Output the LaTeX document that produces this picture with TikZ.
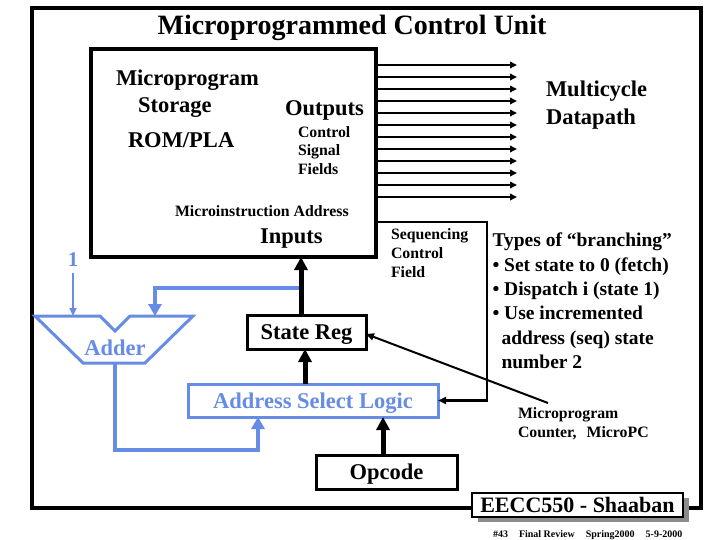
\documentclass[tikz,border=0pt]{standalone}
\usepackage{fontspec}
\setmainfont{Liberation Serif}
\usetikzlibrary{arrows.meta,shadows}
\definecolor{cublue}{RGB}{102,140,229}
\definecolor{shgray}{RGB}{140,140,140}
\newcommand{\fntbig}{\fontsize{22.5}{27}\selectfont\bfseries}
\newcommand{\fntmid}{\fontsize{19.5}{24}\selectfont\bfseries}
\newcommand{\fntsml}{\fontsize{15.8}{18}\selectfont\bfseries}
\begin{document}
\begin{tikzpicture}[x=1pt,y=-1pt,
  every node/.style={inner sep=0pt,outer sep=0pt},
  lbl/.style={anchor=base west,font=\fntbig},
  lblsm/.style={anchor=base west,font=\fntsml},
  lblmid/.style={anchor=base west,font=\fntmid},
  boxb/.style={draw,line width=3pt,anchor=north west,font=\fntbig,text height=15.5pt,text depth=0pt},
  outarr/.style={line width=2.5pt,-{Triangle[length=7pt,width=6.5pt]}},
  thickarr/.style={line width=5pt,-{Triangle[length=13pt,width=13pt]}},
  bluearr/.style={cublue,line width=4pt,-{Triangle[length=12pt,width=13pt]}},
  thinarr/.style={line width=2.5pt,-{Triangle[length=8pt,width=7pt]}},
]
\fill[white] (0,0) rectangle (720,540);
\useasboundingbox (0,0) rectangle (720,540);
\draw[line width=3.5pt] (32,8) rectangle (701,508);
\node[anchor=base,font=\fontsize{28}{32}\selectfont\bfseries] (title) at (352,35) {Microprogrammed Control Unit};

% microprogram storage
\node[draw,line width=3.2pt,anchor=north west,minimum width=285pt,minimum height=208pt] (rom) at (91,49) {};
\node[lbl] (t1) at (116,86) {Microprogram};
\node[lbl] (t2) at (138,113) {Storage};
\node[lbl] (t3) at (128,148) {ROM/PLA};
\node[lbl] (t4) at (285,116) {Outputs};
\node[lblsm] (t5) at (298,137.5) {Control};
\node[lblsm] (t6) at (298,156) {Signal};
\node[lblsm] (t7) at (298,175) {Fields};
\node[lblsm] (t8) at (175,216.5) {Microinstruction Address};
\node[lbl] (t9) at (260,243.5) {Inputs};

\foreach \i in {0,...,11}
  \draw[outarr] ([yshift={-(16+12*\i)}]rom.north east) -- ++(141,0);

\node[lbl] (dp1) at (546,97) {Multicycle};
\node[lbl] (dp2) at (546,125) {Datapath};

\node[lblsm] (sq1) at (391,240) {Sequencing};
\node[lblsm] (sq2) at (391,258.5) {Control};
\node[lblsm] (sq3) at (391,277) {Field};

\node[lblmid] (ty0) at (492.5,247) {Types of “branching”};
\node[lblmid] (ty1) at (492.5,271.3) {• Set state to 0 (fetch)};
\node[lblmid] (ty2) at (492.5,295.6) {• Dispatch i (state 1)};
\node[lblmid] (ty3) at (492.5,319.9) {• Use incremented};
\node[lblmid] (ty4) at (501.5,344.2) {address (seq) state};
\node[lblmid] (ty5) at (501.5,368.5) {number 2};

\node[lblsm] (mp1) at (518,418) {Microprogram};
\node[lblsm] (mp2) at (518,437) {Counter,\hspace{10pt}MicroPC};

% boxes
\node[boxb,minimum width=119pt,minimum height=34pt] (sr) at (247,315) {State Reg};
\node[boxb,draw=cublue,text=cublue,minimum width=250pt,minimum height=33pt] (asl) at (188,384) {Address Select Logic};
\node[boxb,minimum width=141pt,minimum height=34pt] (opc) at (316,455) {Opcode};

% adder
\draw[cublue,line width=3pt] (35,316) -- (100,316) -- (115,331) -- (130,316) -- (193,316) -- (145,363) -- (83,363) -- cycle;
\node[anchor=base,font=\fntbig,text=cublue] (adder) at (115,355) {Adder};
\coordinate (addinA) at (73,316);
\coordinate (addinB) at (155,316);
\coordinate (addout) at (115,363);
\node[anchor=base,font=\fontsize{21}{24}\selectfont\bfseries,text=cublue] (one) at (73,266) {1};
\draw[cublue,line width=2pt,-{Triangle[length=8pt,width=7pt]}] ([yshift=-7pt]one.south) -- (addinA);
\coordinate (tap) at ([xshift=-5.5pt,yshift=27pt]sr.north);
\draw[bluearr] (tap) -| (addinB);
\draw[bluearr] (addout) |- ([xshift=-55pt,yshift=-33pt]asl.south) -- ([xshift=-55pt]asl.south);

% black arrows
\draw[thickarr] ([xshift=-5.5pt]sr.north) -- ([xshift=-5.5pt]sr.north |- rom.south);
\draw[thickarr] ([xshift=-8pt]asl.north) -- ([xshift=-8pt]asl.north |- sr.south);
\draw[thickarr] ([xshift=-3.5pt]opc.north) -- ([xshift=-3.5pt]opc.north |- asl.south);
\draw[thinarr] ([yshift=35pt]rom.south east) -- ++(111,0) |- (asl.east);
\coordinate (mpcend) at (548,403);
\draw[thinarr,line width=2pt] (mpcend) -- ([yshift=-2pt]sr.east);

% footer
\node[draw,line width=2pt,fill=white,anchor=north west,minimum width=211pt,minimum height=24pt,
  font=\fontsize{22}{26}\selectfont\bfseries,text height=15pt,text depth=0pt,
  drop shadow={shadow xshift=6pt,shadow yshift=-5pt,fill=shgray,opacity=1}] (eecc) at (472,493) {EECC550 - Shaaban};
\node[anchor=base west,font=\fontsize{10}{12}\selectfont\bfseries] (foot) at (493,537) {\#43\hspace{11pt}Final Review\hspace{11pt}Spring2000\hspace{11pt}5-9-2000};
\end{tikzpicture}
\end{document}
